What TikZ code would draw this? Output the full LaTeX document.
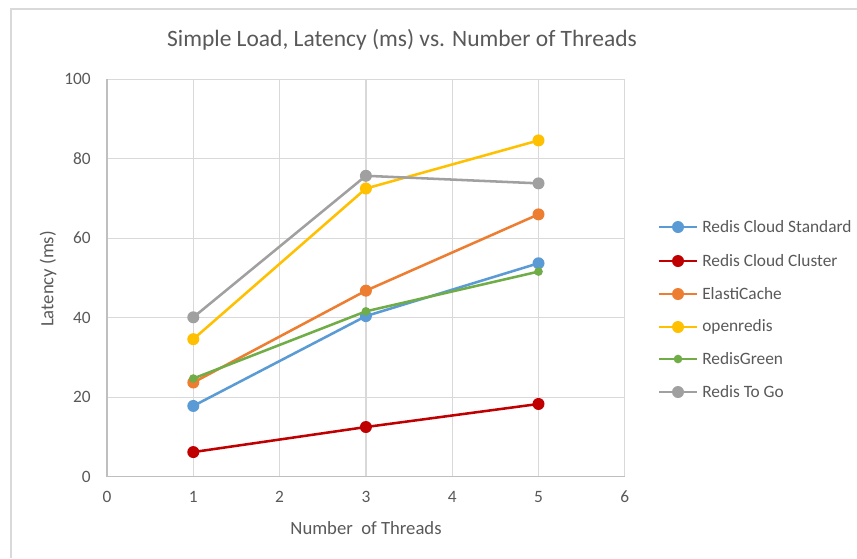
\documentclass[tikz,border=0pt]{standalone}
\usepackage{fontspec}
\setmainfont{Carlito}
\definecolor{gridc}{HTML}{D9D9D9}
\definecolor{axisc}{HTML}{BFBFBF}
\definecolor{txtc}{HTML}{595959}
\definecolor{cA}{HTML}{5B9BD5}
\definecolor{cB}{HTML}{C00000}
\definecolor{cC}{HTML}{ED7D31}
\definecolor{cD}{HTML}{FFC000}
\definecolor{cE}{HTML}{70AD47}
\definecolor{cF}{HTML}{A0A0A0}
\begin{document}
\begin{tikzpicture}[x=0.75pt,y=-0.75pt,
  gridline/.style={draw=gridc,line width=0.9pt},
  axisline/.style={draw=axisc,line width=1pt},
  serie/.style={line width=1.9pt,line join=round},
  dot/.style={circle,inner sep=0pt,minimum size=9pt,fill=#1,draw=none},
  smalldot/.style={circle,inner sep=0pt,minimum size=6.5pt,fill=#1,draw=none},
  ticklab/.style={text=txtc,font=\fontsize{13pt}{15pt}\selectfont,inner sep=1pt},
  axtitle/.style={text=txtc,font=\fontsize{14pt}{16pt}\selectfont,inner sep=1pt},
  legtext/.style={text=txtc,font=\fontsize{13pt}{15pt}\selectfont,anchor=west,inner sep=0pt},
  titletext/.style={text=txtc,font=\fontsize{17.6pt}{20pt}\selectfont}]
\useasboundingbox (0,0) rectangle (857,558);
\fill[white] (0,0) rectangle (857,558);
% chart border
\coordinate (bTL) at (11,9);
\coordinate (bTR) at (857,9);
\coordinate (bBL) at (11,558);
\draw[draw=gridc,line width=1.2pt] (bTR) -- (bTL) -- (bBL);
% title
\node[titletext] (title) at (402,40) {Simple Load, Latency (ms) vs. Number of Threads};
\begin{scope}[shift={(107,476.7)},x=64.725pt,y=2.98125pt]
  % grid
  \foreach \gx in {1,...,6} \draw[gridline] (\gx,0) -- (\gx,100);
  \foreach \gy in {20,40,...,100} \draw[gridline] (0,\gy) -- (6,\gy);
  \draw[axisline] (0,0) -- (6,0);
  \draw[axisline] (0,0) -- (0,100);
  % tick labels
  \foreach \gx in {0,...,6} \node[ticklab] (xt\gx) at ([yshift=-15pt]\gx,0) {\gx};
  \foreach \gy in {0,20,...,100} \node[ticklab,anchor=east] (yt\gy) at ([xshift=-11pt]0,\gy) {\gy};
  % data
  \coordinate (a1) at (1,17.8); \coordinate (a3) at (3,40.4); \coordinate (a5) at (5,53.7);
  \coordinate (b1) at (1,6.2);  \coordinate (b3) at (3,12.5); \coordinate (b5) at (5,18.3);
  \coordinate (c1) at (1,23.7); \coordinate (c3) at (3,46.8); \coordinate (c5) at (5,66.0);
  \coordinate (d1) at (1,34.6); \coordinate (d3) at (3,72.5); \coordinate (d5) at (5,84.6);
  \coordinate (e1) at (1,24.7); \coordinate (e3) at (3,41.6); \coordinate (e5) at (5,51.6);
  \coordinate (f1) at (1,40.1); \coordinate (f3) at (3,75.7); \coordinate (f5) at (5,73.8);
  \draw[serie,cA] (a1) -- (a3) -- (a5);
  \foreach \p in {a1,a3,a5} \node[dot=cA] at (\p) {};
  \draw[serie,cB] (b1) -- (b3) -- (b5);
  \foreach \p in {b1,b3,b5} \node[dot=cB] at (\p) {};
  \draw[serie,cC] (c1) -- (c3) -- (c5);
  \foreach \p in {c1,c3,c5} \node[dot=cC] at (\p) {};
  \draw[serie,cD] (d1) -- (d3) -- (d5);
  \foreach \p in {d1,d3,d5} \node[dot=cD] at (\p) {};
  \draw[serie,cE] (e1) -- (e3) -- (e5);
  \foreach \p in {e1,e3,e5} \node[smalldot=cE] at (\p) {};
  \draw[serie,cF] (f1) -- (f3) -- (f5);
  \foreach \p in {f1,f3,f5} \node[dot=cF] at (\p) {};
\end{scope}
% axis titles
\node[axtitle,rotate=90] (ytitle) at (48,279) {Latency (ms)};
\node[axtitle] (xtitle) at (366,528) {Number\ \ of Threads};
% legend
\foreach \i/\yy/\c/\lab/\st in {1/227/cA/Redis Cloud Standard/dot,2/261/cB/Redis Cloud Cluster/dot,3/294/cC/ElastiCache/dot,4/327/cD/openredis/dot,5/359/cE/RedisGreen/smalldot,6/392/cF/Redis To Go/dot}{
  \coordinate (l\i a) at (659,\yy);
  \coordinate (l\i b) at (697,\yy);
  \draw[serie,\c] (l\i a) -- (l\i b);
  \node[\st=\c] (lm\i) at (678,\yy) {};
  \node[legtext] (lt\i) at (702,\yy) {\lab};
}
\end{tikzpicture}
\end{document}
